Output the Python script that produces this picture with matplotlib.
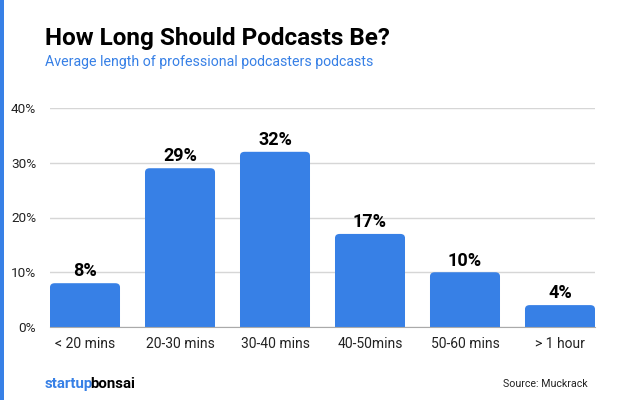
import matplotlib.pyplot as plt
from matplotlib.patches import FancyBboxPatch, Rectangle

categories = ['< 20 mins', '20-30 mins', '30-40 mins', '40-50mins', '50-60 mins', '> 1 hour']
values = [8, 29, 32, 17, 10, 4]
yticks = [0, 10, 20, 30, 40]

blue = '#3780E6'
plt.rcParams['font.family'] = ['Roboto', 'DejaVu Sans']

fig = plt.figure(figsize=(6.21, 4.0), dpi=100)
ax = fig.add_axes([50/621, 73/400, 545/621, 219/400])

# rounded-top bars
width = 0.737
r_x = 0.05
r_y = 0.75
for i, v in enumerate(values):
    x0 = i - width / 2
    ax.add_patch(FancyBboxPatch((x0, 0), width, v,
                                boxstyle='round,pad=0,rounding_size=%f' % r_x,
                                mutation_aspect=r_y / r_x,
                                fc=blue, ec='none', zorder=3))
    ax.add_patch(Rectangle((x0, 0), width, min(v, 1.5), fc=blue, ec='none', zorder=3))
    ax.text(i, v + 0.5, f'{v}%', ha='center', va='bottom',
            fontsize=13, fontweight='bold', color='black', zorder=4)

ax.set_xlim(-width / 2, len(values) - 1 + width / 2)
ax.set_ylim(0, 40)
ax.set_yticks(yticks)
ax.set_yticklabels([f'{t}%' for t in yticks], fontsize=9.7, color='#222222')
ax.set_xticks(range(len(categories)))
ax.set_xticklabels(categories, fontsize=10, color='#222222')
ax.tick_params(length=0, pad=10)
ax.tick_params(axis='x', pad=7)
ax.grid(axis='y', color='#d6d6d6', linewidth=1, zorder=0)
for s in ['top', 'right', 'left']:
    ax.spines[s].set_visible(False)
ax.spines['bottom'].set_color('#aaaaaa')
ax.spines['bottom'].set_zorder(5)

# left stripe
fig.patches.append(Rectangle((0, 0), 4/621, 1, transform=fig.transFigure,
                             fc=blue, ec='none'))

fig.text(45/621, 1 - 38/400, 'How Long Should Podcasts Be?', fontsize=17.5,
         fontweight='bold', color='black', va='center')
fig.text(45/621, 1 - 62/400, 'Average length of professional podcasters podcasts',
         fontsize=10.2, color=blue, va='center')

t = fig.text(45/621, 1 - 384/400, 'startup', fontsize=10.8, fontweight='bold',
             color=blue, va='center')
fig.canvas.draw()
bb = t.get_window_extent()
fig.text((bb.x1 - 3) / 621, 1 - 384/400, 'bonsai', fontsize=10.8, fontweight='bold',
         color='black', va='center')
fig.text(588/621, 1 - 384/400, 'Source: Muckrack', fontsize=7.7, color='#222222',
         ha='right', va='center')

fig.savefig('out.png', dpi=100)
